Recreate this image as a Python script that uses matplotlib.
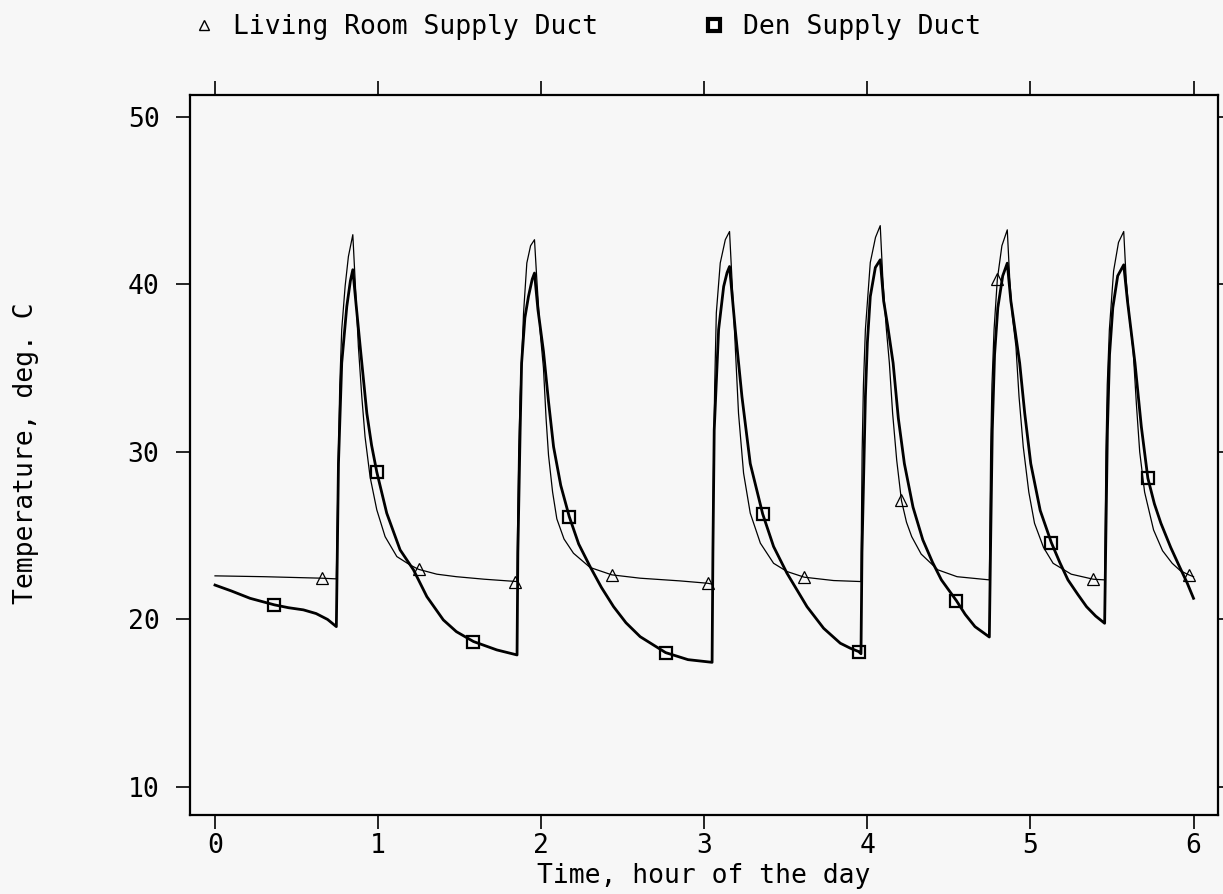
import matplotlib.pyplot as plt
from matplotlib.lines import Line2D

# Living Room Supply Duct (thin line), hours vs deg C
living_t = [0.00, 0.30, 0.655, 0.744,
            0.750, 0.757, 0.765, 0.777, 0.798, 0.818, 0.845,
            0.859, 0.879, 0.90, 0.92, 0.951, 0.992, 1.043, 1.115, 1.196, 1.248, 1.36, 1.48, 1.65, 1.852,
            1.856, 1.862, 1.871, 1.892, 1.912, 1.935, 1.959,
            1.975, 1.995, 2.014, 2.03, 2.045, 2.07, 2.096, 2.14, 2.198, 2.30, 2.433, 2.607, 2.85, 3.02, 3.051,
            3.054, 3.058, 3.064, 3.074, 3.098, 3.129, 3.155,
            3.17, 3.19, 3.21, 3.241, 3.282, 3.344, 3.425, 3.507, 3.613, 3.793, 3.961,
            3.964, 3.968, 3.976, 3.988, 4.018, 4.05, 4.079,
            4.095, 4.115, 4.135, 4.155, 4.18, 4.209, 4.24, 4.272, 4.33, 4.432, 4.55, 4.748,
            4.752, 4.756, 4.764, 4.777, 4.797, 4.825, 4.858,
            4.873, 4.89, 4.911, 4.93, 4.956, 4.99, 5.025, 5.08, 5.139, 5.25, 5.385, 5.455,
            5.459, 5.463, 5.471, 5.484, 5.51, 5.54, 5.572,
            5.587, 5.607, 5.63, 5.65, 5.67, 5.70, 5.755, 5.81, 5.869, 5.92, 5.971, 6.0]
living_temp = [22.6, 22.55, 22.46, 22.42,
               26.0, 30.0, 34.0, 37.3, 39.9, 41.66, 42.96,
               40.27, 36.3, 33.3, 30.9, 28.5, 26.54, 24.94, 23.75, 23.25, 22.99, 22.7, 22.55, 22.4, 22.26,
               26.0, 30.0, 33.3, 38.3, 41.27, 42.3, 42.66,
               40.0, 37.0, 35.0, 32.0, 29.8, 27.6, 26.0, 24.8, 23.95, 23.1, 22.66, 22.46, 22.3, 22.16, 22.1,
               26.0, 30.0, 34.0, 38.3, 41.27, 42.66, 43.15,
               40.27, 36.3, 32.3, 28.73, 26.34, 24.55, 23.35, 22.86, 22.52, 22.32, 22.26,
               26.0, 30.0, 34.0, 37.3, 41.3, 42.8, 43.5,
               40.3, 37.5, 35.3, 32.3, 29.5, 27.1, 25.8, 24.94, 23.9, 22.96, 22.55, 22.36,
               26.0, 30.0, 34.0, 37.3, 40.3, 42.3, 43.25,
               40.3, 38.0, 36.3, 33.3, 30.3, 27.6, 25.74, 24.3, 23.35, 22.7, 22.4, 22.36,
               26.0, 30.0, 34.0, 37.3, 40.8, 42.5, 43.15,
               40.3, 38.0, 36.0, 32.8, 30.0, 27.6, 25.34, 24.1, 23.35, 22.9, 22.66, 22.55]

# Den Supply Duct (thick line)
den_t = [0.00, 0.10, 0.215, 0.364, 0.45, 0.542, 0.62, 0.69, 0.744,
         0.750, 0.757, 0.777, 0.808, 0.83, 0.845,
         0.865, 0.89, 0.931, 0.96, 0.992, 1.053, 1.135, 1.217, 1.299, 1.40, 1.48, 1.585, 1.728, 1.852,
         1.857, 1.871, 1.880, 1.90, 1.922, 1.945, 1.959,
         1.98, 2.014, 2.045, 2.076, 2.12, 2.172, 2.23, 2.30, 2.37, 2.444, 2.52, 2.607, 2.763, 2.90, 3.048,
         3.053, 3.061, 3.088, 3.119, 3.14, 3.155,
         3.19, 3.231, 3.282, 3.358, 3.425, 3.507, 3.63, 3.732, 3.834, 3.896, 3.947, 3.961,
         3.967, 3.988, 4.0, 4.018, 4.049, 4.079,
         4.10, 4.125, 4.158, 4.19, 4.227, 4.28, 4.34, 4.40, 4.454, 4.546, 4.60, 4.66, 4.748,
         4.755, 4.766, 4.78, 4.80, 4.83, 4.858,
         4.88, 4.905, 4.934, 4.965, 5.002, 5.06, 5.128, 5.18, 5.23, 5.29, 5.344, 5.40, 5.455,
         5.461, 5.472, 5.485, 5.505, 5.535, 5.572,
         5.595, 5.62, 5.641, 5.68, 5.72, 5.76, 5.80, 5.86, 5.914, 5.96, 6.0]
den_temp = [22.05, 21.7, 21.26, 20.87, 20.7, 20.57, 20.35, 20.0, 19.57,
            24.0, 29.3, 35.3, 38.67, 40.2, 40.87,
            38.8, 36.3, 32.3, 30.4, 28.8, 26.34, 24.15, 22.96, 21.36, 19.97, 19.27, 18.68, 18.18, 17.88,
            24.0, 31.3, 35.3, 38.0, 39.27, 40.3, 40.67,
            38.5, 36.0, 33.0, 30.3, 28.0, 26.14, 24.5, 23.15, 21.9, 20.76, 19.8, 18.97, 18.02, 17.6, 17.44,
            24.0, 31.3, 37.3, 39.87, 40.7, 41.06,
            37.3, 33.3, 29.3, 26.3, 24.35, 22.76, 20.76, 19.47, 18.58, 18.28, 18.08, 17.95,
            24.0, 33.3, 36.5, 39.27, 41.0, 41.46,
            39.0, 37.5, 35.3, 32.0, 29.3, 26.7, 24.75, 23.4, 22.36, 21.12, 20.3, 19.57, 18.95,
            24.0, 31.3, 35.8, 38.6, 40.5, 41.26,
            39.0, 37.3, 35.3, 32.3, 29.3, 26.5, 24.59, 23.4, 22.36, 21.5, 20.76, 20.2, 19.77,
            24.0, 31.3, 35.8, 38.6, 40.5, 41.16,
            39.0, 37.0, 35.3, 31.5, 28.43, 26.9, 25.74, 24.3, 23.15, 22.2, 21.26]

# marker positions along each curve
living_mark_t = [0.655, 1.248, 1.84, 2.433, 3.02, 3.613, 4.209, 4.797, 5.385, 5.971]
living_mark_temp = [22.46, 22.99, 22.26, 22.66, 22.16, 22.52, 27.1, 40.3, 22.4, 22.66]
den_mark_t = [0.364, 0.992, 1.585, 2.172, 2.763, 3.358, 3.947, 4.546, 5.128, 5.72]
den_mark_temp = [20.87, 28.8, 18.68, 26.14, 18.02, 26.3, 18.08, 21.12, 24.59, 28.43]

x_ticks = [0, 1, 2, 3, 4, 5, 6]
y_ticks = [10, 20, 30, 40, 50]

bg = '#f7f7f7'
plt.rcParams['font.family'] = ['DejaVu Sans Mono']

fig = plt.figure(figsize=(12.23, 8.94), dpi=100, facecolor=bg)
ax = fig.add_axes([0.1554, 0.0884, 0.8405, 0.8054], facecolor=bg)

ax.plot(living_t, living_temp, color='black', lw=0.9)
ax.plot(den_t, den_temp, color='black', lw=2.0)
ax.plot(living_mark_t, living_mark_temp, ls='none', marker='^', ms=9,
        mfc='none', mec='black', mew=0.9)
ax.plot(den_mark_t, den_mark_temp, ls='none', marker='s', ms=9,
        mfc='none', mec='black', mew=1.6)

ax.set_xlim(-0.153, 6.15)
ax.set_ylim(8.33, 51.3)
ax.set_xticks(x_ticks)
ax.set_yticks(y_ticks)
ax.tick_params(direction='out', length=10, width=1.2, labelsize=19,
               top=True, right=True, pad=3)
ax.tick_params(axis='y', pad=12)
for s in ax.spines.values():
    s.set_linewidth(1.6)

ax.set_xlabel('Time, hour of the day', fontsize=19, labelpad=3)
fig.text(0.021, 0.493, 'Temperature, deg. C', rotation=90, fontsize=19,
         ha='center', va='center')

handles = [
    Line2D([], [], ls='none', marker='^', ms=7, mfc='none', mec='black', mew=1.0),
    Line2D([], [], ls='none', marker='s', ms=9, mfc='white', mec='black', mew=3.0),
]
fig.legend(handles, ['Living Room Supply Duct', 'Den Supply Duct'],
           loc='center left', bbox_to_anchor=(0.158, 0.970), ncol=2,
           frameon=False, fontsize=19, handlelength=0.8, handletextpad=0.7,
           columnspacing=4.0, borderpad=0, borderaxespad=0)

fig.savefig('out.png', dpi=100, facecolor=bg)
